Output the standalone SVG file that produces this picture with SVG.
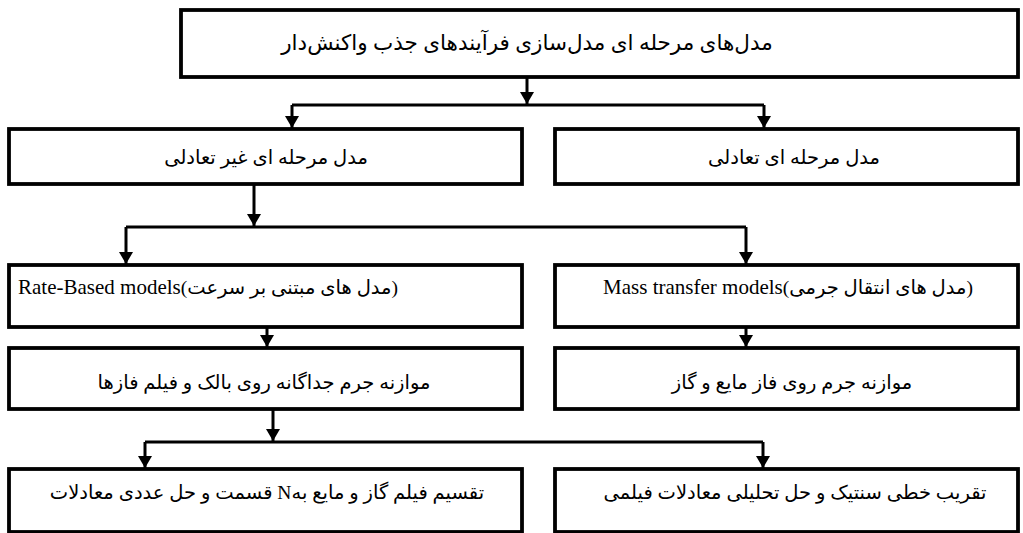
<svg xmlns="http://www.w3.org/2000/svg" width="1023" height="533" viewBox="0 0 1023 533">
<style>
.box{fill:#fff;stroke:#000;stroke-width:3.8}
.ln{fill:none;stroke:#000;stroke-width:3}
.t{font-family:"Liberation Serif","DejaVu Sans",serif;font-size:19.5px;fill:#000;text-anchor:middle}
.top{font-size:21.5px}
.lat{font-size:21px}
</style>
<defs>
<marker id="ah" viewBox="0 0 12 14" refX="12" refY="7" markerWidth="12" markerHeight="14" markerUnits="userSpaceOnUse" orient="auto">
<path d="M0,0 L12,7 L0,14 Z" fill="#000"/>
</marker>
</defs>
<g id="connectors">
<path class="ln" d="M527,77 V104" marker-end="url(#ah)"/>
<path class="ln" d="M292,105 H764"/>
<path class="ln" d="M292,105 V128" marker-end="url(#ah)"/>
<path class="ln" d="M764,105 V128" marker-end="url(#ah)"/>
<path class="ln" d="M254,184 V226" marker-end="url(#ah)"/>
<path class="ln" d="M126,227 H746"/>
<path class="ln" d="M126,227 V264" marker-end="url(#ah)"/>
<path class="ln" d="M746,227 V264" marker-end="url(#ah)"/>
<path class="ln" d="M267,327 V347" marker-end="url(#ah)"/>
<path class="ln" d="M746,327 V347" marker-end="url(#ah)"/>
<path class="ln" d="M273,409 V441" marker-end="url(#ah)"/>
<path class="ln" d="M145,442 H763"/>
<path class="ln" d="M145,442 V468" marker-end="url(#ah)"/>
<path class="ln" d="M763,442 V468" marker-end="url(#ah)"/>
</g>
<g id="n-top">
<rect class="box" x="181" y="10" width="837" height="67"/>
<text class="t top" x="527" y="50" direction="rtl">مدل‌های مرحله ای مدل‌سازی فرآیندهای جذب واکنش‌دار</text>
</g>
<g id="n-noneq">
<rect class="box" x="9" y="129" width="513" height="55"/>
<text class="t" x="266" y="164" direction="rtl">مدل مرحله ای غیر تعادلی</text>
</g>
<g id="n-eq">
<rect class="box" x="555" y="129" width="463" height="55"/>
<text class="t" x="794" y="164" direction="rtl">مدل مرحله ای تعادلی</text>
</g>
<g id="n-rate">
<rect class="box" x="9" y="265" width="513" height="62"/>
<text class="t" x="208" y="294" direction="rtl">(مدل های مبتنی بر سرعت)<tspan class="lat">Rate-Based models</tspan></text>
</g>
<g id="n-mass">
<rect class="box" x="555" y="265" width="463" height="62"/>
<text class="t" x="788" y="294" direction="rtl">(مدل های انتقال جرمی)<tspan class="lat">Mass transfer models</tspan></text>
</g>
<g id="n-bal1">
<rect class="box" x="9" y="348" width="513" height="61"/>
<text class="t" x="264" y="389" direction="rtl">موازنه جرم جداگانه روی بالک و فیلم فازها</text>
</g>
<g id="n-bal2">
<rect class="box" x="555" y="348" width="463" height="61"/>
<text class="t" x="792" y="389" direction="rtl">موازنه جرم روی فاز مایع و گاز</text>
</g>
<g id="n-div">
<rect class="box" x="9" y="469" width="513" height="63"/>
<text class="t" x="267" y="499" direction="rtl">تقسیم فیلم گاز و مایع بهN قسمت و حل عددی معادلات</text>
</g>
<g id="n-lin">
<rect class="box" x="555" y="469" width="463" height="63"/>
<text class="t" x="795" y="499" direction="rtl">تقریب خطی سنتیک و حل تحلیلی معادلات فیلمی</text>
</g>
</svg>
